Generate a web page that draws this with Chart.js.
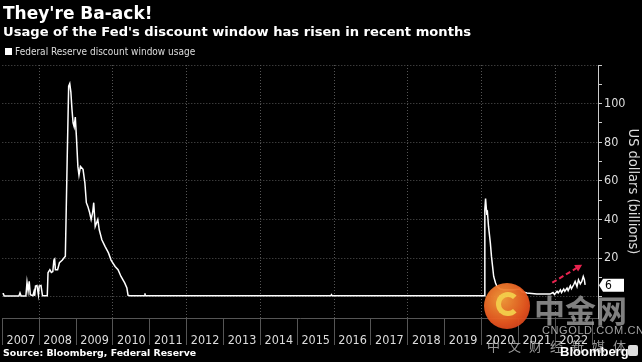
<!DOCTYPE html>
<html>
<head>
<meta charset="utf-8">
<script src="https://cdn.jsdelivr.net/npm/chart.js@4.4.1/dist/chart.umd.min.js"></script>
<style>
  html, body { margin: 0; padding: 0; background: #000; }
  #wrap { position: relative; width: 642px; height: 362px; overflow: hidden; background: #000; }
  #myChart { position: absolute; left: 0; top: 0; }
  .txt { position: absolute; white-space: nowrap; color: #fff; }
  #title { left: 3px; top: 3px; font: bold 17px "DejaVu Sans"; }
  #subtitle { left: 3px; top: 24px; font: bold 13.1px "DejaVu Sans"; }
  #legend { left: 5px; top: 46px; font: 10px "DejaVu Sans Condensed", "Liberation Sans", sans-serif; color: #ddd; }
  #legend span { display: inline-block; width: 7px; height: 7px; background: #fff; margin-right: 3px; }
  #source { left: 3px; top: 347px; font: bold 9.4px "DejaVu Sans"; }
  #logo { position: absolute; left: 484px; top: 283px; width: 46px; height: 46px; border-radius: 50%;
          background: radial-gradient(circle at 40% 35%, #f9a03c, #e8561f 60%, #c6311a); opacity: 0.95; }
  #swirl { position: absolute; left: 12px; top: 9px; width: 14px; height: 14px; border: 5px solid #ffd44d;
           border-radius: 50%; border-right-color: transparent; }
  #cn1 { left: 534px; top: 286px; font: bold 31px "Noto Sans CJK SC"; color: rgba(160,160,160,0.8); }
  #cn2 { left: 542px; top: 324px; font: 11px "Liberation Sans"; color: rgba(190,190,190,0.85); letter-spacing: 0.6px; }
  #cn3 { left: 487px; top: 336px; font: 13px "Noto Sans CJK SC"; color: rgba(190,190,190,0.8); letter-spacing: 8px; }
  #bbg { left: 560px; top: 344px; font: bold 13px "Liberation Sans"; }
  #bbgicon { position: absolute; left: 628px; top: 345px; width: 10px; height: 11px; background: #ddd; border-radius: 2px; }
</style>
</head>
<body>
<div id="wrap">
  <canvas id="myChart" width="642" height="362"></canvas>
  <div class="txt" id="title">They're Ba-ack!</div>
  <div class="txt" id="subtitle">Usage of the Fed's discount window has risen in recent months</div>
  <div class="txt" id="legend"><span></span>Federal Reserve discount window usage</div>
  <div class="txt" id="source">Source: Bloomberg, Federal Reserve</div>
  <div id="logo"><div id="swirl"></div></div>
  <div class="txt" id="cn1">中金网</div>
  <div class="txt" id="cn2">CNGOLD.COM.CN</div>
  <div class="txt" id="cn3">中文财经新媒体</div>
  <div class="txt" id="bbg">Bloomberg</div>
  <div id="bbgicon"></div>
</div>
<script>
// dates as decimal years, usage in US$ billions
const dates = [
  2007.00, 2007.03, 2007.05, 2007.45, 2007.48, 2007.51, 2007.64, 2007.67, 2007.70, 2007.73,
  2007.76, 2007.83, 2007.86, 2007.88, 2007.90, 2007.94, 2007.98, 2008.00, 2008.05, 2008.09,
  2008.22, 2008.24, 2008.29, 2008.33, 2008.37, 2008.40, 2008.42, 2008.44, 2008.50, 2008.55,
  2008.63, 2008.71, 2008.76, 2008.80, 2008.83, 2008.86, 2008.89, 2008.92, 2008.95, 2008.98,
  2009.01, 2009.05, 2009.08, 2009.12, 2009.19, 2009.24, 2009.28, 2009.32, 2009.37, 2009.41,
  2009.45, 2009.48, 2009.52, 2009.59, 2009.63, 2009.70, 2009.79, 2009.88, 2009.95, 2010.06,
  2010.14, 2010.22, 2010.32, 2010.38, 2010.41, 2010.45, 2010.86, 2010.87, 2010.88, 2015.91,
  2015.93, 2015.95, 2020.07, 2020.09, 2020.11, 2020.14, 2020.16, 2020.19, 2020.24, 2020.27,
  2020.30, 2020.33, 2020.38, 2020.42, 2020.51, 2020.60, 2020.87, 2021.03, 2021.10, 2021.23,
  2021.50, 2021.86, 2021.94, 2021.98, 2022.05, 2022.08, 2022.14, 2022.17, 2022.23, 2022.26,
  2022.32, 2022.35, 2022.41, 2022.44, 2022.50, 2022.54, 2022.59, 2022.63, 2022.68, 2022.72,
  2022.76, 2022.79, 2022.81
];
const usage = [
  1.5, 1.5, 0.4, 0.4, 2, 0.4, 0.4, 7.5, 3, 8,
  1, 0.5, 2.7, 0.5, 5.5, 5.8, 1, 5.5, 5.8, 0.5,
  0.5, 12.4, 14, 12.6, 13, 19, 19.5, 14, 14, 17.6,
  19, 21, 71, 109, 110.4, 106, 97, 90, 88, 93,
  83, 67.5, 63, 67.5, 66, 59, 48.7, 46.8, 43.5, 40,
  43.5, 48.7, 36.4, 40, 34.7, 29.5, 26, 22.7, 19, 15.7,
  14, 10.5, 7.2, 4.5, 0.8, 0.5, 0.5, 1.8, 0.5, 0.5,
  1.1, 0.5, 0.5, 45, 50.8, 43.4, 44, 36.4, 27.8, 20.9,
  15.7, 10.5, 7.1, 5.3, 4, 3.6, 3.6, 4, 2.6, 1.9,
  1.4, 1.4, 2.2, 1.2, 2.8, 2, 3.6, 2.2, 4, 2.8,
  4.5, 3.2, 5.7, 4.2, 6.2, 7.9, 5.3, 8.8, 6.7, 7.9,
  10.5, 8.8, 6.2
];
const yearTicks = [2007, 2008, 2009, 2010, 2011, 2012, 2013, 2014, 2015, 2016, 2017, 2018, 2019, 2020, 2021, 2022, 2023];
const valueTicks = [0, 10, 20, 30, 40, 50, 60, 70, 80, 90, 100, 110, 120];

const axisFont = '"Liberation Sans Narrow", "DejaVu Sans Condensed", "Liberation Sans", sans-serif';
const points = dates.map((d, i) => ({ x: d, y: usage[i] }));

const extras = {
  id: 'extras',
  afterDraw(chart) {
    const c = chart.ctx;
    const xs = chart.scales.x, ys = chart.scales.y;
    const area = chart.chartArea;
    // red dashed trend arrow
    const x1 = xs.getPixelForValue(2021.92), y1 = ys.getPixelForValue(7.3);
    const x2 = xs.getPixelForValue(2022.73), y2 = ys.getPixelForValue(16.6);
    c.save();
    c.strokeStyle = '#e8234f';
    c.fillStyle = '#e8234f';
    c.lineWidth = 2;
    c.setLineDash([5, 3]);
    c.beginPath();
    c.moveTo(x1, y1);
    c.lineTo(x2 - 4, y2 + 2.4);
    c.stroke();
    c.setLineDash([]);
    const ang = Math.atan2(y2 - y1, x2 - x1);
    c.beginPath();
    c.moveTo(x2, y2);
    c.lineTo(x2 - 8 * Math.cos(ang - 0.5), y2 - 8 * Math.sin(ang - 0.5));
    c.lineTo(x2 - 8 * Math.cos(ang + 0.5), y2 - 8 * Math.sin(ang + 0.5));
    c.closePath();
    c.fill();
    // last value tag
    const last = usage[usage.length - 1];
    const ty = ys.getPixelForValue(Math.round(last));
    const left = area.right + 1;
    c.fillStyle = '#fff';
    c.beginPath();
    c.moveTo(left, ty);
    c.lineTo(left + 4, ty - 6.5);
    c.lineTo(left + 25, ty - 6.5);
    c.lineTo(left + 25, ty + 6.5);
    c.lineTo(left + 4, ty + 6.5);
    c.closePath();
    c.fill();
    c.fillStyle = '#000';
    c.font = '12px ' + axisFont;
    c.textBaseline = 'middle';
    c.textAlign = 'left';
    c.fillText(String(Math.round(last)), left + 6, ty + 0.5);
    c.restore();
  }
};

const ctx = document.getElementById('myChart');
new Chart(ctx, {
  type: 'line',
  data: {
    datasets: [{
      label: 'Federal Reserve discount window usage',
      data: points,
      borderColor: '#fff',
      borderWidth: 1.5,
      pointRadius: 0,
      tension: 0,
    }]
  },
  options: {
    responsive: false,
    animation: false,
    layout: { padding: { top: 65, bottom: 14, left: 0, right: 0 } },
    plugins: { legend: { display: false }, tooltip: { enabled: false } },
    scales: {
      x: {
        type: 'linear',
        min: 2007,
        max: 2023.16,
        afterBuildTicks: (s) => { s.ticks = yearTicks.map(v => ({ value: v })); },
        afterFit: (s) => { s.height = 30; },
        grid: {
          color: (c) => (c.tick && c.tick.value % 2 === 0) ? '#555' : 'rgba(0,0,0,0)',
          tickColor: '#555',
          tickLength: 27,
          lineWidth: 1,
        },
        border: { display: true, color: '#555', dash: [1, 2] },
        ticks: {
          color: '#ddd',
          font: { family: axisFont, size: 12.5 },
          labelOffset: 18.5,
          padding: -12,
          maxRotation: 0,
          autoSkip: false,
          callback: (v) => v < 2023 ? String(v) : '',
        }
      },
      y: {
        position: 'right',
        min: -11,
        max: 120,
        afterBuildTicks: (s) => { s.ticks = valueTicks.map(v => ({ value: v })); },
        afterFit: (s) => { s.width = 44; },
        grid: {
          color: (c) => (c.tick && c.tick.value % 20 === 0) ? '#555' : 'rgba(0,0,0,0)',
          tickColor: '#ccc',
          tickLength: 4,
        },
        border: { display: true, color: '#ccc', dash: [1, 2] },
        ticks: {
          color: '#ddd',
          font: { family: axisFont, size: 12.5 },
          padding: 2,
          callback: (v) => (v % 20 === 0 && v > 0 && v < 120) ? String(v) : '',
        },
        title: {
          display: true,
          text: 'US dollars (billions)',
          color: '#ddd',
          font: { family: axisFont, size: 14.5 },
          padding: { top: 1, bottom: 0 },
        }
      }
    }
  },
  plugins: [extras]
});
</script>
</body>
</html>
